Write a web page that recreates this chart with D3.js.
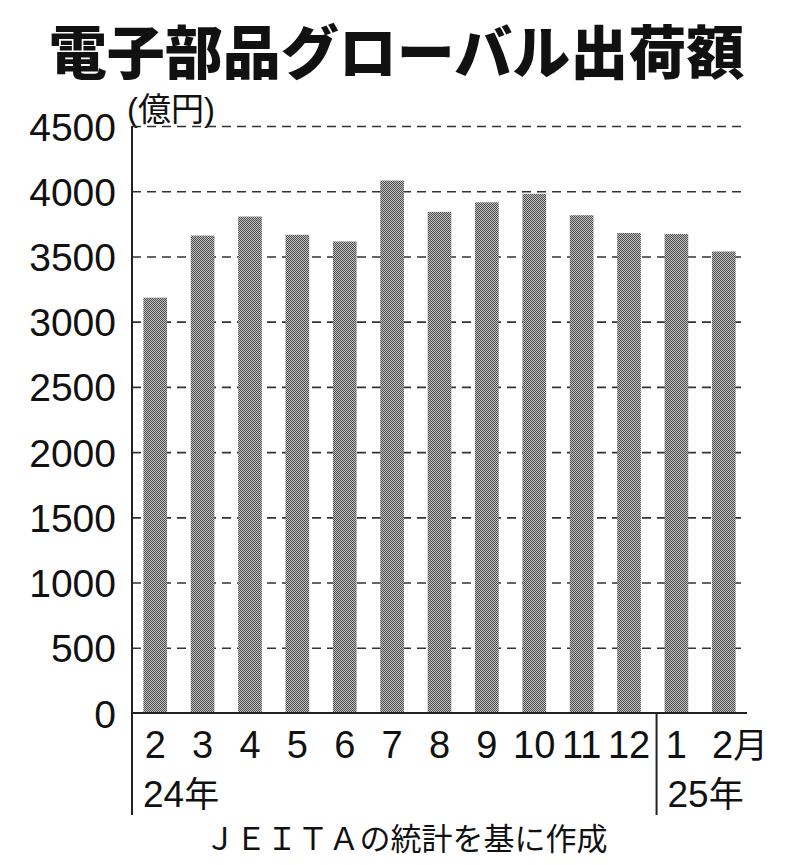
<!DOCTYPE html>
<html>
<head>
<meta charset="utf-8">
<script src="https://cdn.jsdelivr.net/npm/d3@7"></script>
<style>
  body { margin: 0; background: #fff; }
  text { fill: #111; }
</style>
</head>
<body>
<script>
// monthly global shipments of electronic components (100 million yen)
const months = ['2024-02', '2024-03', '2024-04', '2024-05', '2024-06', '2024-07', '2024-08',
  '2024-09', '2024-10', '2024-11', '2024-12', '2025-01', '2025-02'];
const monthLabels = ['2', '3', '4', '5', '6', '7', '8', '9', '10', '11', '12', '1', '2'];
const values = [3184, 3660, 3806, 3666, 3615, 4082, 3842, 3915, 3980, 3816, 3680, 3672, 3538];
const yTicks = [0, 500, 1000, 1500, 2000, 2500, 3000, 3500, 4000, 4500];
const years = [{ from: '2024-02', label: '24年' }, { from: '2025-01', label: '25年' }];

const W = 793;
const H = 865;
const plotLeft = 132;
const plotRight = 747;
const plotTop = 126;
const plotBottom = 713;

const font = '"Liberation Sans", Arial, "Noto Sans CJK JP", sans-serif';
const jpFont = '"Noto Sans CJK JP", sans-serif';

const svg = d3.select('body')
  .append('svg')
  .attr('width', W)
  .attr('height', H);

// checkered screen tone for the bars
const pat = svg.append('defs')
  .append('pattern')
  .attr('id', 'tone')
  .attr('width', 2)
  .attr('height', 2)
  .attr('patternUnits', 'userSpaceOnUse');
pat.append('rect').attr('width', 2).attr('height', 2).attr('fill', '#c4c4c4');
pat.append('rect').attr('width', 1).attr('height', 1).attr('fill', '#4a4a4a');
pat.append('rect').attr('x', 1).attr('y', 1).attr('width', 1).attr('height', 1).attr('fill', '#4a4a4a');

const x = d3.scaleBand()
  .domain(months)
  .range([plotLeft, plotRight])
  .paddingInner(0.5)
  .paddingOuter(0.24);

const y = d3.scaleLinear()
  .domain([0, 4500])
  .range([plotBottom, plotTop]);

// title
svg.append('text')
  .attr('x', W / 2)
  .attr('y', 74)
  .attr('text-anchor', 'middle')
  .attr('font-family', font)
  .attr('font-weight', 900)
  .attr('font-size', 58)
  .text('電子部品グローバル出荷額');

svg.append('text')
  .attr('x', 127)
  .attr('y', 121)
  .attr('font-family', font)
  .attr('font-size', 33)
  .text('(億円)');

// y axis with dashed grid
const yAxis = d3.axisLeft(y)
  .tickValues(yTicks)
  .tickFormat(d3.format('d'))
  .tickSize(0)
  .tickPadding(16);

const gy = svg.append('g')
  .attr('transform', `translate(${plotLeft},0)`)
  .call(yAxis);
gy.select('.domain').remove();
gy.selectAll('text')
  .attr('font-family', font)
  .attr('font-size', 39)
  .attr('dy', '0.36em')
  .attr('fill', '#111');
gy.selectAll('.tick')
  .filter(d => d > 0)
  .append('line')
  .attr('x2', plotRight - plotLeft)
  .attr('stroke', '#333')
  .attr('stroke-width', 1.6)
  .attr('stroke-dasharray', '9 6');

// bars
svg.append('g')
  .selectAll('rect')
  .data(months)
  .join('rect')
  .attr('x', d => x(d))
  .attr('y', (d, i) => y(values[i]))
  .attr('width', x.bandwidth())
  .attr('height', (d, i) => y(0) - y(values[i]))
  .attr('fill', 'url(#tone)');

// axis lines
const axisBottom = 815;
svg.append('line')
  .attr('x1', plotLeft).attr('x2', plotLeft)
  .attr('y1', plotTop).attr('y2', axisBottom)
  .attr('stroke', '#222').attr('stroke-width', 2);
svg.append('line')
  .attr('x1', plotLeft).attr('x2', plotRight)
  .attr('y1', y(0)).attr('y2', y(0))
  .attr('stroke', '#222').attr('stroke-width', 2);

// month labels
const xAxis = d3.axisBottom(x)
  .tickSize(0)
  .tickPadding(0)
  .tickFormat((d, i) => monthLabels[i]);
const gx = svg.append('g')
  .attr('transform', `translate(0,${plotBottom})`)
  .call(xAxis);
gx.select('.domain').remove();
gx.selectAll('text')
  .attr('font-family', font)
  .attr('font-size', 38)
  .attr('dy', 0)
  .attr('y', 45)
  .attr('fill', '#111');
gx.selectAll('.tick:last-of-type text')
  .attr('text-anchor', 'start')
  .attr('x', -x.bandwidth() / 2 + 0)
  .text(monthLabels[monthLabels.length - 1])
  .append('tspan')
  .attr('font-family', jpFont)
  .attr('font-size', 35)
  .text('月');

// year separators and labels
years.forEach((yr, i) => {
  const xs = i === 0 ? plotLeft : x(yr.from) - 8;
  if (i > 0) {
    svg.append('line')
      .attr('x1', xs).attr('x2', xs)
      .attr('y1', y(0)).attr('y2', axisBottom)
      .attr('stroke', '#222').attr('stroke-width', 2);
  }
  svg.append('text')
    .attr('x', xs + 11)
    .attr('y', 807)
    .attr('font-family', font)
    .attr('font-size', 37)
    .text(yr.label.slice(0, 2))
    .append('tspan')
    .attr('font-family', jpFont)
    .attr('font-size', 35)
    .text(yr.label.slice(2));
});

// source
svg.append('text')
  .attr('x', 406)
  .attr('y', 850)
  .attr('text-anchor', 'middle')
  .attr('font-family', jpFont)
  .attr('font-size', 31)
  .text('ＪＥＩＴＡの統計を基に作成');
</script>
</body>
</html>
